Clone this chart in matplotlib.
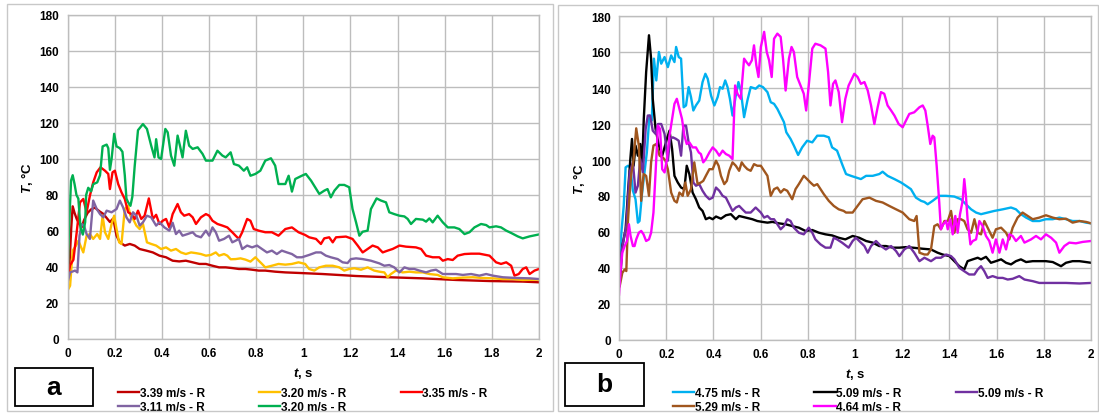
import matplotlib
matplotlib.use('Agg')
import matplotlib.pyplot as plt
from matplotlib.patches import Rectangle
from matplotlib.ticker import FuncFormatter, MultipleLocator

plt.rcParams['font.family'] = ['Liberation Sans', 'DejaVu Sans']
plt.rcParams['mathtext.fontset'] = 'custom'
plt.rcParams['mathtext.it'] = 'Liberation Sans:italic:bold'
plt.rcParams['mathtext.rm'] = 'Liberation Sans:bold'

W, H = 1099, 414

# ---------------- panel a data (t in s, T in degC) ----------------
t_a_dred = [0, .008, .016, .022, .03, .039, .05, .06, .07, .085, .1, .116, .135, .152, .18, .194, .208, .222, .243, .264,
            .285, .306, .334, .362, .39, .418, .446, .474, .502, .531, .559, .587, .615, .643, .671, .699, .727, .755, .783, .811,
            .839, .881, .924, .98, 1.015, 1.082, 1.224, 1.365, 1.507, 1.648, 1.79, 1.931, 2.0]
T_a_dred = [29, 40, 62, 73.7, 70, 66.7, 64, 62, 66, 70, 72, 73, 71, 69.5, 65, 67, 57.4, 53.7, 51.9, 52.8,
            51.9, 50, 49.1, 48.1, 46.3, 45.4, 43.5, 43.1, 43.5, 42.6, 41.7, 41.7, 40.7, 39.8, 39.8, 39.4, 38.9, 38.9, 38.5, 38,
            38, 37.4, 37, 36.7, 36.5, 36.1, 35, 34.3, 33.7, 32.8, 32.2, 31.9, 31.5]

t_a_yel = [0, .011, .022, .036, .046, .067, .081, .095, .109, .126, .138, .149, .159, .173, .187, .198, .208, .219, .229, .243,
           .257, .267, .278, .292, .306, .32, .337, .355, .376, .397, .418, .439, .46, .481, .502, .524, .545, .566, .587, .608,
           .629, .643, .664, .678, .692, .713, .734, .755, .776, .797, .811, .825, .839, .867, .895, .924, .952, .98, 1.008, 1.025,
           1.047, 1.068, 1.096, 1.125, 1.153, 1.174, 1.195, 1.217, 1.245, 1.273, 1.301, 1.323, 1.344, 1.358, 1.372, 1.393, 1.422, 1.45, 1.478, 1.507,
           1.535, 1.57, 1.592, 1.634, 1.677, 1.719, 1.761, 1.804, 1.846, 1.889, 1.931, 2.0]
T_a_yel = [26.9, 29.6, 49.1, 51.9, 54.6, 48.1, 57.4, 58.3, 55.6, 58.3, 55.6, 68.5, 59.3, 55.6, 63.9, 68.5, 61.1, 53.7, 52.8, 72.2,
           74.1, 68.5, 66.7, 63, 61.1, 63.9, 53.7, 52.8, 51.9, 50, 50.9, 49.1, 50, 48.1, 47.2, 48.1, 47.7, 47.2, 46.3, 46.7,
           48.1, 46.3, 47.2, 46.3, 44.3, 44.4, 44.8, 44.1, 43, 45.4, 43.5, 41.7, 39.8, 40.7, 41.7, 41.3, 41.7, 42.6, 41.7, 38.9,
           38, 39.8, 40.7, 40.7, 39.8, 38, 38.9, 39.3, 38.5, 39.8, 38, 37.4, 37, 34.3, 36.1, 38, 37, 37.4, 37, 37,
           36.1, 35.6, 34.3, 33.7, 34.1, 34.3, 33.9, 33.7, 33.3, 33.3, 32.8, 33]

t_a_red = [0, .011, .025, .039, .053, .067, .081, .095, .109, .124, .14, .159, .173, .18, .191, .201, .215, .229, .243, .257,
           .271, .285, .299, .313, .327, .345, .362, .376, .39, .404, .418, .432, .446, .467, .481, .495, .516, .531, .545, .566,
           .587, .601, .615, .636, .657, .678, .699, .713, .727, .741, .762, .776, .79, .811, .839, .867, .895, .924, .952, .98,
           1.008, 1.025, 1.054, 1.075, 1.089, 1.11, 1.125, 1.139, 1.181, 1.209, 1.231, 1.252, 1.273, 1.294, 1.316, 1.337, 1.358, 1.379, 1.408, 1.436,
           1.478, 1.5, 1.521, 1.549, 1.577, 1.592, 1.613, 1.634, 1.655, 1.684, 1.712, 1.747, 1.79, 1.818, 1.839, 1.861, 1.882, 1.896, 1.914, 1.931,
           1.946, 1.96, 1.981, 2.0]
T_a_red = [33, 41, 44, 59.3, 75.9, 77.8, 70.4, 79.6, 87, 92.6, 95.4, 93.5, 91.7, 83.3, 92.6, 93.5, 86.1, 81.5, 77.8, 70.4,
           69.4, 66.7, 71.3, 66.7, 68.5, 78.1, 66.7, 69, 63.9, 65.7, 66.7, 62, 69.4, 75, 70.4, 68.5, 69.4, 67.6, 63.9, 67.6,
           69.4, 68.5, 65.7, 63.9, 63, 62, 59.3, 57.4, 55.6, 59.3, 66.7, 65.7, 61.1, 60.2, 59.3, 59.3, 57.4, 61.1, 62, 59.3,
           57.8, 56.5, 55.6, 52.8, 55.9, 56.5, 53.7, 56.5, 56.9, 55.6, 51.9, 48.1, 50, 51.9, 50.9, 48.1, 49.1, 50, 51.9, 51.3,
           50.9, 50, 46.3, 45.4, 45.4, 43.5, 44.4, 43.9, 46.3, 47.2, 47.4, 47.4, 46.3, 42.6, 41.7, 42.6, 40.7, 35.2, 36.1, 38.9,
           39.8, 36.1, 38, 38.9]

t_a_pur = [0, .011, .032, .042, .051, .06, .07, .081, .095, .109, .124, .138, .152, .166, .187, .208, .222, .236, .25, .264,
           .278, .292, .306, .32, .337, .355, .376, .39, .411, .432, .446, .46, .474, .488, .509, .531, .545, .566, .587, .601,
           .615, .629, .643, .664, .685, .699, .713, .727, .741, .762, .783, .804, .825, .846, .867, .888, .909, .931, .952, .973,
           .994, 1.025, 1.054, 1.075, 1.096, 1.117, 1.146, 1.167, 1.188, 1.202, 1.224, 1.252, 1.287, 1.323, 1.344, 1.365, 1.386, 1.408, 1.429, 1.45,
           1.471, 1.493, 1.521, 1.542, 1.563, 1.592, 1.62, 1.648, 1.677, 1.712, 1.747, 1.776, 1.804, 1.846, 1.903, 1.96, 2.0]
T_a_pur = [31.5, 37, 38, 37, 57.4, 63.9, 63, 58.3, 55.6, 76.9, 72.2, 69.4, 67.6, 71.3, 70.4, 72.2, 76.9, 73.1, 67.6, 64.8,
           70.4, 68.5, 63, 64.8, 68.5, 67.6, 63, 64.8, 62, 60.2, 64.6, 58.3, 60.2, 57.4, 58.3, 59.3, 57.4, 56.5, 60.2, 57.4,
           62, 59.3, 54.6, 55.6, 57.4, 53.7, 54.6, 55.6, 50, 51.9, 50.9, 51.9, 50, 48.1, 49.1, 47.2, 49.1, 48.1, 47.2, 45.4,
           45.4, 46.7, 48.1, 48.1, 46.3, 45.4, 44.4, 42.6, 42.2, 44.4, 44.8, 44.4, 43.5, 42, 40.7, 41.1, 39.8, 37, 39.8, 38.9,
           38.9, 38, 37, 38, 38.5, 36.1, 36.1, 36.1, 35.6, 36.1, 35.2, 36.1, 35.2, 34.3, 33.9, 33.7, 33.3]

t_a_grn = [0, .006, .015, .022, .03, .038, .046, .055, .065, .075, .079, .088, .1, .109, .126, .138, .149, .166, .173, .18,
           .187, .198, .208, .222, .233, .243, .25, .257, .267, .275, .285, .299, .32, .337, .355, .369, .376, .386, .397, .415,
           .425, .439, .453, .467, .477, .488, .502, .516, .531, .552, .573, .587, .615, .636, .657, .671, .692, .706, .727, .748,
           .762, .776, .797, .818, .839, .863, .881, .895, .924, .938, .952, .966, .994, 1.011, 1.033, 1.068, 1.089, 1.103, 1.117, 1.132,
           1.153, 1.174, 1.195, 1.209, 1.224, 1.238, 1.252, 1.273, 1.287, 1.311, 1.33, 1.351, 1.365, 1.386, 1.408, 1.429, 1.443, 1.457, 1.478, 1.507,
           1.521, 1.535, 1.549, 1.57, 1.592, 1.613, 1.641, 1.662, 1.684, 1.705, 1.726, 1.754, 1.776, 1.79, 1.818, 1.839, 1.861, 1.882, 1.91, 1.931,
           1.96, 2.0]
T_a_grn = [30, 60, 88, 91, 86, 80, 78, 62, 58, 65, 80, 84, 82, 86, 87, 91, 107, 108, 106, 94,
           100, 114, 107, 106, 104, 91, 78, 76, 74, 79, 96, 116, 119.4, 116.7, 107.4, 100.9, 111, 100.9, 100, 116.7,
           114.8, 101.9, 96.3, 113, 107.4, 100.9, 115.7, 107.4, 105.6, 106.5, 102.8, 99.1, 99.1, 104.6, 101.9, 100.9, 103.7, 97.2, 96.3, 93.5,
           95.4, 90.7, 91.7, 93.5, 99.1, 100.4, 96.3, 86.1, 86.1, 90.7, 81.9, 88.9, 90.7, 91.7, 88, 80.6, 82.4, 83.3, 78.7, 82.4,
           85.6, 85.6, 84.3, 72.2, 64.8, 57.4, 59.6, 60.2, 72.2, 78.1, 76.9, 75.9, 70.4, 69.4, 68.5, 68.1, 66.7, 63.9, 66.7, 66.3,
           65.2, 67, 64.8, 68.5, 64.8, 62, 62, 61.1, 58.3, 59.3, 62, 63.9, 63.3, 62, 62.6, 62, 60.2, 58.9, 57, 55.9,
           57, 58.1]

# ---------------- panel b data ----------------
t_b_cya = [0, .003, .01, .02, .028, .038, .048, .059, .07, .08, .087, .098, .108, .118, .129, .139, .148, .158, .169, .179, .193,
           .207, .221, .235, .242, .253, .263, .274, .284, .295, .305, .315, .326, .34, .354, .366, .376, .39, .404, .418, .428,
           .439, .45, .46, .47, .481, .495, .506, .516, .53, .544, .558, .579, .594, .61, .629, .643, .657, .671, .685, .699,
           .709, .727, .741, .759, .776, .797, .819, .84, .868, .889, .903, .924, .948, .962, .983, 1.004, 1.025, 1.047, 1.075, 1.103,
           1.117, 1.138, 1.167, 1.195, 1.216, 1.237, 1.258, 1.28, 1.294, 1.308, 1.329, 1.357, 1.386, 1.421, 1.449, 1.47, 1.492, 1.513, 1.534, 1.562,
           1.59, 1.626, 1.661, 1.682, 1.703, 1.725, 1.753, 1.781, 1.809, 1.838, 1.866, 1.894, 1.922, 1.951, 1.979, 2.0]
T_b_cya = [36, 41, 59.6, 74.5, 95.9, 96.8, 95.9, 82.9, 78.2, 65.2, 66.1, 81.9, 93.1, 104.2, 124.7, 122, 156.3, 144.2, 160, 153.5, 157.2,
           151.6, 158.1, 154.4, 162.8, 157.2, 156.3, 129.3, 130.3, 140.5, 135, 127.5, 130.3, 133, 143.3, 147.9, 145.1, 135.8, 130.3, 134.9, 140.5,
           139.6, 144.2, 140.5, 134, 124.7, 135.8, 143.3, 138.6, 123.8, 133, 140.5, 139.6, 141.4, 140.5, 137.7, 132.1, 131.2, 128.4, 124.7, 121,
           115.4, 111.7, 108, 102.8, 107, 110.7, 109.8, 113.5, 113.5, 112.6, 107, 105.2, 96.8, 92.2, 91.2, 90.3, 89.4, 91.2, 91.2, 92.2,
           93.5, 91.2, 89.4, 87.5, 85.7, 83.8, 79.1, 77.3, 76.7, 75.4, 77.3, 80.1, 80.1, 79.7, 78.2, 75.4, 72.6, 70.8, 69.9, 70.8,
           71.7, 72.6, 73.6, 72.6, 69.9, 68, 66.1, 66.1, 67.1, 67.1, 68, 67.1, 66.1, 66.1, 65.2, 64.8]

t_b_blk = [.006, .014, .028, .038, .048, .055, .062, .07, .08, .09, .098, .105, .115, .127, .136, .143, .155, .169, .183, .193,
           .203, .214, .225, .235, .249, .263, .277, .287, .298, .312, .326, .34, .354, .368, .383, .397, .411, .432, .453, .474,
           .495, .509, .537, .565, .586, .608, .629, .65, .678, .706, .734, .762, .79, .819, .847, .875, .903, .931, .959, .99,
           1.018, 1.047, 1.075, 1.103, 1.131, 1.16, 1.188, 1.216, 1.244, 1.287, 1.322, 1.35, 1.371, 1.4, 1.421, 1.442, 1.463, 1.477, 1.499, 1.52,
           1.534, 1.555, 1.576, 1.597, 1.619, 1.64, 1.661, 1.682, 1.703, 1.725, 1.753, 1.781, 1.809, 1.838, 1.873, 1.894, 1.922, 1.951, 1.979, 2.0]
T_b_blk = [35.5, 52.2, 61.5, 81.9, 100.5, 111.7, 96.8, 108, 102.4, 108.9, 96.8, 122.8, 148.8, 169.3, 156.3, 134, 117.2, 108, 102.4, 107,
           111.7, 116.3, 106.1, 91.2, 87.5, 84.7, 83.8, 96.8, 92.2, 81.9, 78.2, 73.6, 71.7, 67.1, 68, 67.1, 68.6, 67.4, 69.3, 69.9,
           67.1, 68.9, 68, 67.1, 66.1, 65.6, 65.2, 65.6, 64.8, 64.3, 63.3, 62.4, 60.6, 61.1, 59.6, 58.7, 58.1, 56.8, 55.9, 57.8,
           56.8, 55, 54.1, 52.2, 52.2, 51.3, 51.3, 51.6, 51.3, 50.7, 50.3, 48.5, 47.5, 46.6, 43.8, 41, 39.2, 43.8, 44.8, 45.7,
           44.8, 46.2, 42.9, 43.8, 44.8, 42.9, 42, 43.8, 44.8, 43.3, 43.8, 43.8, 43.8, 43.3, 41, 42.9, 43.8, 43.8, 43.3, 42.9]

t_b_pur = [.003, .01, .02, .031, .045, .059, .07, .08, .09, .101, .113, .122, .132, .143, .155, .165, .179, .193, .207, .217,
           .228, .242, .253, .263, .273, .284, .295, .305, .315, .326, .34, .354, .368, .383, .397, .411, .425, .439, .453, .467,
           .481, .495, .509, .523, .537, .558, .579, .601, .615, .629, .643, .657, .671, .685, .699, .713, .727, .741, .762, .783,
           .804, .819, .832, .854, .875, .896, .91, .924, .945, .973, .99, 1.004, 1.018, 1.04, 1.054, 1.068, 1.089, 1.11, 1.131, 1.153,
           1.174, 1.188, 1.209, 1.23, 1.251, 1.273, 1.294, 1.322, 1.343, 1.364, 1.386, 1.407, 1.421, 1.442, 1.463, 1.484, 1.506, 1.52, 1.534, 1.548,
           1.562, 1.583, 1.605, 1.626, 1.647, 1.668, 1.696, 1.718, 1.753, 1.781, 1.838, 1.894, 1.951, 2.0]
T_b_pur = [35.5, 48.5, 55.9, 63.3, 93.1, 98.7, 81.9, 85.7, 100.5, 93.1, 117.2, 124.7, 124.7, 116.3, 114.5, 120, 120, 114.5, 99.6, 111.7,
           112.6, 111.7, 110.7, 102.4, 119.1, 119.1, 109.8, 104.2, 87.5, 85.7, 86.6, 82.9, 80.1, 78.2, 79.1, 84.7, 82.9, 80.1, 79.1, 75.4,
           71.7, 73.6, 74.5, 72.6, 70.8, 70.8, 73.6, 70.8, 68, 68.9, 67.1, 67.1, 64.3, 61.5, 63.3, 67.1, 66.1, 62.4, 59.6, 58.7,
           62.4, 59.6, 55.9, 53.1, 51.3, 51.3, 56.8, 55.9, 54.1, 51.3, 55, 56.8, 55, 52.2, 48.5, 52.2, 55, 52.2, 50.3, 52.2,
           49.4, 46.6, 50.3, 52.2, 48.5, 43.8, 45.7, 43.8, 45.7, 45.7, 47.5, 46.6, 44.8, 40.1, 38.2, 36.4, 36.4, 39.2, 41, 38.2,
           34.5, 35.5, 34.5, 34.5, 33.6, 34, 35.5, 33.6, 32.7, 31.7, 31.7, 31.7, 31.4, 31.7]

t_b_brn = [.003, .014, .024, .031, .038, .045, .052, .062, .073, .084, .094, .104, .115, .127, .136, .146, .158, .172, .186, .197,
           .207, .221, .235, .245, .256, .27, .281, .291, .305, .319, .333, .347, .357, .368, .383, .397, .411, .422, .432, .446,
           .457, .467, .481, .495, .509, .52, .53, .544, .558, .572, .586, .601, .615, .629, .643, .657, .671, .685, .699, .713,
           .734, .748, .762, .783, .797, .811, .826, .84, .854, .868, .889, .91, .931, .952, .962, .99, 1.011, 1.032, 1.061, 1.089,
           1.117, 1.145, 1.174, 1.202, 1.23, 1.251, 1.261, 1.273, 1.294, 1.308, 1.322, 1.336, 1.35, 1.364, 1.379, 1.393, 1.407, 1.421, 1.435, 1.449,
           1.463, 1.477, 1.492, 1.506, 1.52, 1.534, 1.548, 1.562, 1.583, 1.597, 1.619, 1.64, 1.654, 1.668, 1.689, 1.71, 1.732, 1.753, 1.781, 1.809,
           1.838, 1.866, 1.894, 1.922, 1.951, 1.979, 2.0]
T_b_brn = [29.9, 37.3, 39.2, 38.3, 66.1, 81, 92.2, 100.5, 117.6, 108, 77.3, 92.2, 91.2, 80.1, 98.7, 108, 108.9, 102.4, 101.4, 99.6,
           94.9, 81.9, 77.3, 76.4, 81.9, 80.1, 87.5, 80.1, 83.8, 98.7, 86.6, 87.5, 88.4, 91.2, 94.9, 94.9, 99.6, 96.8, 91.2, 86.6,
           88.4, 94, 98.7, 96.8, 94, 98.7, 96.8, 94.9, 94, 97.7, 96.8, 96.8, 94, 91.2, 80.1, 83.8, 84.7, 81.9, 83.8, 82.9,
           78.2, 83.8, 86.6, 91.2, 89.4, 87.5, 85.7, 86.6, 83.8, 81, 77.3, 74.5, 72.6, 71.7, 70.8, 70.8, 74.5, 78.2, 79.1, 77.3,
           76.4, 74.5, 72.6, 70.8, 67.1, 66.1, 68.9, 48.5, 47.5, 47.5, 50.3, 63.3, 64.3, 61.5, 66.1, 66.1, 71.7, 59.6, 67.1, 67.1,
           66.1, 61.5, 59.6, 67.1, 59.6, 58.7, 66.1, 62.4, 56.8, 61.5, 62.4, 59.6, 55.9, 62.4, 68, 70.8, 68.9, 67.1, 68, 69.3,
           68, 67.1, 67.4, 65.2, 66.1, 65.6, 64.8]

t_b_mag = [0, .006, .014, .024, .034, .042, .049, .059, .066, .073, .084, .094, .104, .115, .127, .136, .146, .155, .165, .174,
           .183, .193, .203, .214, .225, .235, .245, .256, .267, .277, .287, .298, .312, .326, .338, .347, .357, .368, .383, .397,
           .411, .425, .439, .453, .467, .481, .492, .502, .516, .53, .54, .551, .563, .572, .582, .591, .601, .615, .626, .636,
           .647, .657, .671, .685, .695, .706, .72, .731, .741, .755, .769, .783, .793, .804, .819, .832, .854, .875, .886, .896,
           .907, .917, .931, .945, .959, .973, .997, 1.011, 1.025, 1.04, 1.054, 1.068, 1.082, 1.096, 1.11, 1.124, 1.138, 1.153, 1.167, 1.185,
           1.202, 1.216, 1.23, 1.251, 1.273, 1.287, 1.298, 1.308, 1.319, 1.329, 1.336, 1.346, 1.357, 1.364, 1.374, 1.386, 1.393, 1.403, 1.414, 1.425,
           1.435, 1.445, 1.456, 1.463, 1.47, 1.477, 1.489, 1.499, 1.513, 1.527, 1.541, 1.555, 1.569, 1.583, 1.597, 1.612, 1.626, 1.64, 1.654, 1.668,
           1.682, 1.703, 1.718, 1.732, 1.746, 1.767, 1.788, 1.809, 1.831, 1.852, 1.866, 1.887, 1.908, 1.936, 1.965, 2.0]
T_b_mag = [25.2, 37.3, 48.5, 52.2, 55, 64.3, 57.8, 52.2, 52.2, 55.9, 59.6, 60.6, 58.7, 55, 55.9, 59.6, 70.8, 93.1, 119.1, 117.2,
           94.9, 93.1, 100.5, 113.5, 122.8, 131.2, 134, 128.4, 122.8, 113.5, 108.9, 109.8, 107, 107, 104.2, 103.3, 98.7, 100.5, 104.2, 107,
           105.2, 102.4, 105.2, 103.3, 102.4, 100.5, 141.4, 136.8, 134, 156.3, 154.4, 152.6, 155.4, 163.7, 152.6, 146.1, 162.8, 171.2, 160, 155.4,
           146.1, 167.4, 170.2, 168.4, 156.3, 138.6, 156.3, 162.8, 160, 146.1, 141.4, 136.8, 127.5, 141.4, 161.9, 164.6, 163.7, 161.9, 148.8, 130.3,
           142.3, 144.2, 137.7, 121, 134, 141.4, 147.9, 146.1, 142.3, 143.3, 138.6, 130.3, 120, 129.3, 137.7, 136.8, 130.3, 127.5, 124.7, 120,
           118.2, 121.9, 125.6, 126.5, 129.3, 130.3, 127.5, 119.1, 108.9, 113.5, 112.6, 96.8, 76.4, 61.5, 64.3, 66.1, 61.5, 67.1, 58.7, 68.9,
           59.6, 69.9, 77.3, 89.4, 80.1, 67.1, 53.1, 55, 55.9, 66.1, 63.3, 57.8, 55, 48.5, 55.9, 48.5, 55.9, 50.3, 58.7, 57.8,
           55, 57.8, 54.1, 55, 55.9, 57.8, 55.9, 58.7, 56.8, 54.1, 48.5, 52.2, 54.1, 53.7, 54.5, 55]

series_a = [(t_a_dred, T_a_dred, '#C00000', '3.39 m/s - R'),
            (t_a_yel, T_a_yel, '#FFC000', '3.20 m/s - R'),
            (t_a_red, T_a_red, '#FF0000', '3.35 m/s - R'),
            (t_a_pur, T_a_pur, '#8064A2', '3.11 m/s - R'),
            (t_a_grn, T_a_grn, '#00B050', '3.20 m/s - R')]
series_b = [(t_b_cya, T_b_cya, '#00B0F0', '4.75 m/s - R'),
            (t_b_blk, T_b_blk, '#000000', '5.09 m/s - R'),
            (t_b_pur, T_b_pur, '#7030A0', '5.09 m/s - R'),
            (t_b_brn, T_b_brn, '#A0561E', '5.29 m/s - R'),
            (t_b_mag, T_b_mag, '#FF00FF', '4.64 m/s - R')]
# legend order (column-wise fill of a 3-column legend)
order = [0, 3, 1, 4, 2]

fig = plt.figure(figsize=(W / 100, H / 100), dpi=100)


def px(x0, y0, x1, y1):
    # pixel box -> figure fraction [left, bottom, width, height]
    return [x0 / W, 1 - y1 / H, (x1 - x0) / W, (y1 - y0) / H]


def draw_panel(box, series, letter, letter_box, legend_xy):
    ax = fig.add_axes(px(*box))
    lines = []
    for t, T, c, lab in series:
        ln, = ax.plot(t, T, color=c, lw=1.7, label=lab, solid_joinstyle='round')
        lines.append(ln)
    ax.set_xlim(0, 2)
    ax.set_ylim(0, 180)
    ax.xaxis.set_major_locator(MultipleLocator(0.2))
    ax.yaxis.set_major_locator(MultipleLocator(20))
    ax.xaxis.set_major_formatter(FuncFormatter(lambda v, p: f'{v:g}'))
    ax.grid(True, color='#BDBDBD', lw=1)
    ax.set_axisbelow(True)
    for s in ax.spines.values():
        s.set_color('#BDBDBD')
        s.set_linewidth(1)
    ax.tick_params(length=0, labelsize=8.5, pad=6)
    for lab in ax.get_xticklabels() + ax.get_yticklabels():
        lab.set_fontweight('bold')
    ax.set_xlabel(r'$t$, s', fontsize=9.5, fontweight='bold', labelpad=4)
    ax.set_ylabel(r'$T$, °C', fontsize=9.5, fontweight='bold', labelpad=3)

    ax.legend([lines[i] for i in order], [series[i][3] for i in order],
              loc='upper left', bbox_to_anchor=(legend_xy[0] / W, 1 - legend_xy[1] / H),
              bbox_transform=fig.transFigure, ncol=3, frameon=False, borderpad=0,
              handlelength=1.8, handletextpad=0.05, columnspacing=4.6, labelspacing=0.15,
              prop=dict(weight='bold', size=8.5))

    x0, y0, x1, y1 = letter_box
    fig.add_artist(Rectangle((x0 / W, 1 - y1 / H), (x1 - x0) / W, (y1 - y0) / H,
                             transform=fig.transFigure, fill=False, ec='black', lw=1.3))
    fig.text((x0 + x1) / 2 / W, 1 - (y0 + y1) / 2 / H, letter, ha='center', va='center',
             fontsize=19, fontweight='bold')
    return ax


# outer panel frames
for x0, y0, x1, y1 in [(7, 5, 553, 412), (558, 6, 1098, 412)]:
    fig.add_artist(Rectangle((x0 / W, 1 - y1 / H), (x1 - x0) / W, (y1 - y0) / H,
                             transform=fig.transFigure, fill=False, ec='#C8C8C8', lw=1))

draw_panel((67.5, 16, 539, 340), series_a, 'a', (15, 369, 93, 407), (112, 382))
draw_panel((619, 17, 1091, 341), series_b, 'b', (565, 364, 644, 407), (667, 382))

fig.savefig('out.png', dpi=100)
